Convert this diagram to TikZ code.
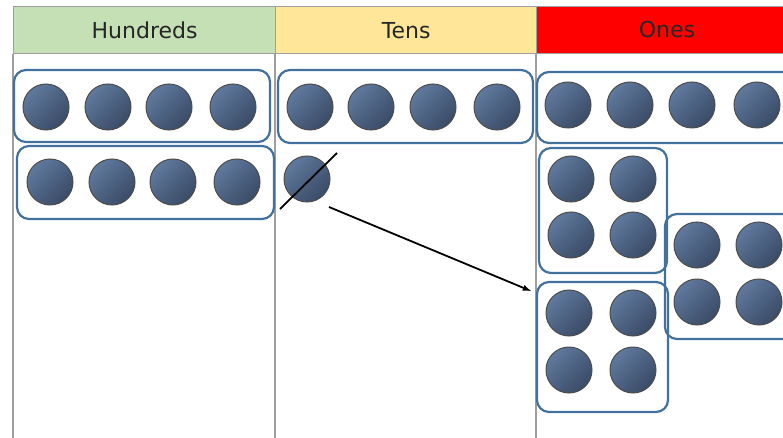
\documentclass[tikz,border=0pt]{standalone}
\usepackage{fontspec}
\setmainfont{DejaVu Sans}
\begin{document}
\begin{tikzpicture}[x=1pt,y=-1pt,
  grid/.style={draw=gray!75, line width=1.3pt},
  head/.style={grid, minimum height=47pt, inner sep=0pt, anchor=north west, font=\fontsize{22}{24}\selectfont, text=black!85},
  counter/.style={circle, draw=black!70, line width=1pt, minimum size=46pt, inner sep=0pt,
    top color=cntlight, bottom color=cntdark, shading angle=45},
  grp/.style={draw=grpblue, line width=2.2pt, rounded corners=12pt, inner sep=0pt},
  slash/.style={draw=black, line width=1.8pt},
  move/.style={draw=black, line width=1.8pt, -latex}]
\definecolor{cntlight}{HTML}{5F799D}
\definecolor{cntdark}{HTML}{3A4B66}
\definecolor{grpblue}{HTML}{41719C}
\definecolor{hgreen}{HTML}{C5E0B4}
\definecolor{tyellow}{HTML}{FFE699}
\definecolor{ored}{HTML}{FF0000}
\useasboundingbox (0,0) rectangle (783,438);
\clip (0,0) rectangle (783,438);
\fill[white] (0,0) rectangle (783,438);
% headers
\node[head, fill=hgreen, minimum width=262pt] (hh) at (13,6) {Hundreds};
\node[head, fill=tyellow, minimum width=261pt] (th) at (275,6) {Tens};
\node[head, fill=ored, minimum width=260pt] (oh) at (536,6) {};
\node at (667,29.5) [font=\fontsize{22}{24}\selectfont, text=black!85] (ohl) {Ones};
% column lines
\coordinate (l0) at (13,438);
\coordinate (l1) at (275,438);
\coordinate (l2) at (536,438);
\draw[grid] (hh.south west) -- (l0);
\draw[grid] (th.south west) -- (l1);
\draw[grid] (oh.south west) -- (l2);
% hundreds counters
\foreach \x [count=\i] in {46,108,169,233} \node[counter] (ha\i) at (\x,107) {};
\foreach \x [count=\i] in {50,112,173,237} \node[counter] (hb\i) at (\x,182) {};
% tens counters
\foreach \x [count=\i] in {310,371,433,497} \node[counter] (ta\i) at (\x,107) {};
\node[counter] (tb1) at (307,179) {};
% ones counters
\foreach \x [count=\i] in {568,630,692,757} \node[counter] (oa\i) at (\x,105) {};
\node[counter] (ob1) at (571,179) {};
\node[counter] (ob2) at (633,179) {};
\node[counter] (ob3) at (571,235) {};
\node[counter] (ob4) at (633,235) {};
\node[counter] (oc1) at (697,245) {};
\node[counter] (oc2) at (759,245) {};
\node[counter] (oc3) at (697,302) {};
\node[counter] (oc4) at (759,302) {};
\node[counter] (od1) at (569,313) {};
\node[counter] (od2) at (633,313) {};
\node[counter] (od3) at (569,370) {};
\node[counter] (od4) at (633,370) {};
% group boxes
\node[grp, minimum width=256pt, minimum height=72pt] (hg1) at (142,106) {};
\node[grp, minimum width=257pt, minimum height=73pt] (hg2) at (145.5,182.5) {};
\node[grp, minimum width=255pt, minimum height=73pt] (tg1) at (405.5,106.5) {};
\node[grp, minimum width=270pt, minimum height=71pt] (og1) at (672,107.5) {};
\node[grp, minimum width=128pt, minimum height=125pt] (og2) at (603,210.5) {};
\node[grp, minimum width=140pt, minimum height=125pt] (og3) at (735,276.5) {};
\node[grp, minimum width=131pt, minimum height=130pt] (og4) at (602.5,347) {};
% exchange
\coordinate (s1) at (280,209);
\coordinate (s2) at (337,153);
\draw[slash] (s1) -- (s2);
\coordinate (a1) at (329,207);
\coordinate (a2) at (531,291);
\draw[move] (a1) -- (a2);
\end{tikzpicture}
\end{document}
